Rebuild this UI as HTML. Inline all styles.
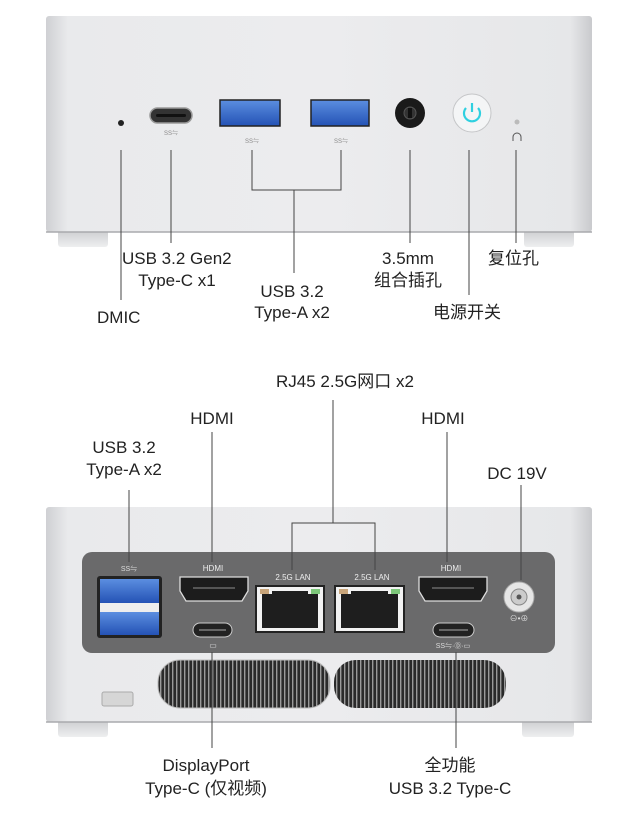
<!DOCTYPE html>
<html><head><meta charset="utf-8"><style>
html,body{margin:0;padding:0;background:#fff;}
svg{display:block}
text{font-family:"Liberation Sans","Noto Sans CJK SC",sans-serif;fill:#222;}
</style></head><body>
<svg width="640" height="815" viewBox="0 0 640 815" xmlns="http://www.w3.org/2000/svg">
<defs>
<linearGradient id="body" x1="0" x2="1" y1="0" y2="0">
<stop offset="0" stop-color="#cfd0d3"/><stop offset="0.04" stop-color="#e9eaec"/><stop offset="0.5" stop-color="#ececee"/><stop offset="0.96" stop-color="#e6e7e9"/><stop offset="1" stop-color="#c9cacd"/>
</linearGradient>
<linearGradient id="foot" x1="0" x2="0" y1="0" y2="1"><stop offset="0" stop-color="#c8c9cc"/><stop offset="1" stop-color="#eeeff0"/></linearGradient>
<linearGradient id="blue" x1="0" x2="0" y1="0" y2="1"><stop offset="0" stop-color="#5b8ee0"/><stop offset="1" stop-color="#2452b5"/></linearGradient>
<pattern id="vent" width="4" height="10" patternUnits="userSpaceOnUse"><rect width="4" height="10" fill="#2a2a2a"/><rect x="0" width="1.4" height="10" fill="#9a9a9a"/></pattern>
</defs>

<!-- TOP DEVICE -->
<rect x="58" y="228" width="50" height="19" rx="3" fill="url(#foot)"/>
<rect x="524" y="228" width="50" height="19" rx="3" fill="url(#foot)"/>
<rect x="46" y="16" width="546" height="216" rx="3" fill="url(#body)"/>
<line x1="46" y1="232" x2="592" y2="232" stroke="#a9aaad" stroke-width="1.5"/>
<circle cx="121" cy="123" r="3" fill="#222"/>
<rect x="150" y="108" width="42" height="15" rx="7.5" fill="#333" stroke="#999" stroke-width="1.5"/>
<rect x="156" y="114" width="30" height="3" rx="1.5" fill="#111"/>
<text x="171" y="135" font-size="6" text-anchor="middle" style="fill:#888">SS⇋</text>
<rect x="220" y="100" width="60" height="26" fill="url(#blue)" stroke="#222" stroke-width="1.5"/>
<rect x="311" y="100" width="58" height="26" fill="url(#blue)" stroke="#222" stroke-width="1.5"/>
<text x="252" y="143" font-size="6" text-anchor="middle" style="fill:#888">SS⇋</text>
<text x="341" y="143" font-size="6" text-anchor="middle" style="fill:#888">SS⇋</text>
<circle cx="410" cy="113" r="15" fill="#1a1a1a"/>
<circle cx="410" cy="113" r="6" fill="#333" stroke="#555"/>
<rect x="408" y="108" width="4" height="10" fill="#111"/>
<circle cx="472" cy="113" r="19" fill="#f4f5f6" stroke="#c5c6c8"/>
<path d="M466 108 a8 8 0 1 0 12 0" fill="none" stroke="#2fd0e0" stroke-width="2.2"/>
<line x1="472" y1="103" x2="472" y2="112" stroke="#2fd0e0" stroke-width="2.2"/>
<circle cx="517" cy="122" r="2.5" fill="#bbb"/>
<path d="M513 141 v-4 a4 4 0 0 1 8 0 v4" fill="none" stroke="#555" stroke-width="1"/>

<g stroke="#444" stroke-width="1" fill="none">
<line x1="121" y1="150" x2="121" y2="300"/>
<line x1="171" y1="150" x2="171" y2="243"/>
<polyline points="252,150 252,190 341,190 341,150"/>
<line x1="294" y1="190" x2="294" y2="273"/>
<line x1="410" y1="150" x2="410" y2="243"/>
<line x1="469" y1="150" x2="469" y2="295"/>
<line x1="516" y1="150" x2="516" y2="243"/>
</g>
<g font-size="17">
<text x="122" y="264">USB 3.2 Gen2</text>
<text x="177" y="286" text-anchor="middle">Type-C x1</text>
<text x="97" y="323">DMIC</text>
<text x="292" y="297" text-anchor="middle">USB 3.2</text>
<text x="292" y="318" text-anchor="middle">Type-A x2</text>
<text x="408" y="264" text-anchor="middle">3.5mm</text>
<text x="408" y="286" text-anchor="middle">组合插孔</text>
<text x="488" y="264">复位孔</text>
<text x="433" y="318">电源开关</text>
<text x="345" y="387" text-anchor="middle">RJ45 2.5G网口 x2</text>
<text x="212" y="424" text-anchor="middle">HDMI</text>
<text x="443" y="424" text-anchor="middle">HDMI</text>
<text x="124" y="453" text-anchor="middle">USB 3.2</text>
<text x="124" y="475" text-anchor="middle">Type-A x2</text>
<text x="517" y="479" text-anchor="middle">DC 19V</text>
<text x="206" y="771" text-anchor="middle">DisplayPort</text>
<text x="206" y="794" text-anchor="middle">Type-C (仅视频)</text>
<text x="450" y="771" text-anchor="middle">全功能</text>
<text x="450" y="794" text-anchor="middle">USB 3.2 Type-C</text>
</g>

<!-- BOTTOM DEVICE -->
<rect x="58" y="718" width="50" height="19" rx="3" fill="url(#foot)"/>
<rect x="522" y="718" width="52" height="19" rx="3" fill="url(#foot)"/>
<rect x="46" y="507" width="546" height="215" rx="3" fill="url(#body)"/>
<line x1="46" y1="722" x2="592" y2="722" stroke="#a9aaad" stroke-width="1.5"/>
<rect x="82" y="552" width="473" height="101" rx="10" fill="#6a6a6b"/>
<rect x="97" y="576" width="65" height="62" rx="3" fill="#222"/>
<rect x="100" y="579" width="59" height="24" fill="url(#blue)"/>
<rect x="100" y="603" width="59" height="9" fill="#eee"/>
<rect x="100" y="612" width="59" height="23" fill="url(#blue)"/>
<text x="129" y="571" font-size="7" text-anchor="middle" style="fill:#ddd">SS⇋</text>
<path d="M180 577 h68 v14 l-6 10 h-56 l-6 -10 z" fill="#1c1c1c" stroke="#ddd" stroke-width="1.3"/>
<rect x="193" y="587" width="42" height="2" fill="#555"/>
<text x="213" y="571" font-size="8" text-anchor="middle" style="fill:#eee">HDMI</text>
<path d="M419 577 h68 v14 l-6 10 h-56 l-6 -10 z" fill="#1c1c1c" stroke="#ddd" stroke-width="1.3"/>
<rect x="432" y="587" width="42" height="2" fill="#555"/>
<text x="451" y="571" font-size="8" text-anchor="middle" style="fill:#eee">HDMI</text>
<rect x="193" y="623" width="39" height="14" rx="7" fill="#222" stroke="#ccc"/>
<rect x="199" y="629" width="27" height="2" fill="#666"/>
<rect x="433" y="623" width="41" height="14" rx="7" fill="#222" stroke="#ccc"/>
<rect x="439" y="629" width="29" height="2" fill="#666"/>
<text x="213" y="648" font-size="8" text-anchor="middle" style="fill:#ddd">▭</text>
<text x="453" y="648" font-size="7" text-anchor="middle" style="fill:#ddd">SS⇋·Ⓓ·▭</text>
<text x="293" y="580" font-size="8" text-anchor="middle" style="fill:#eee">2.5G LAN</text>
<text x="372" y="580" font-size="8" text-anchor="middle" style="fill:#eee">2.5G LAN</text>
<g>
<rect x="255" y="585" width="70" height="48" fill="#222"/>
<rect x="257" y="587" width="66" height="44" fill="#f2f2f2"/>
<path d="M262 594 h10 v-3 h36 v3 h10 v34 h-56 z" fill="#1e1e1e"/>
<rect x="260" y="589" width="9" height="5" fill="#c9a57a"/>
<rect x="311" y="589" width="9" height="5" fill="#7dc77a"/>
<rect x="334" y="585" width="71" height="48" fill="#222"/>
<rect x="336" y="587" width="67" height="44" fill="#f2f2f2"/>
<path d="M341 594 h10 v-3 h37 v3 h10 v34 h-57 z" fill="#1e1e1e"/>
<rect x="339" y="589" width="9" height="5" fill="#c9a57a"/>
<rect x="391" y="589" width="9" height="5" fill="#7dc77a"/>
</g>
<circle cx="519" cy="597" r="15" fill="#e6e6e6" stroke="#aaa"/>
<circle cx="519" cy="597" r="8" fill="#ccc" stroke="#888"/>
<circle cx="519" cy="597" r="2.5" fill="#555"/>
<text x="519" y="621" font-size="8" text-anchor="middle" style="fill:#ddd">⊖•⊕</text>
<rect x="158" y="660" width="172" height="48" rx="22" fill="url(#vent)"/>
<rect x="158" y="660" width="172" height="48" rx="22" fill="none" stroke="#bbb"/>
<rect x="334" y="660" width="172" height="48" rx="22" fill="url(#vent)"/>
<rect x="102" y="692" width="31" height="14" rx="2" fill="#d6d6d6" stroke="#aaa"/>

<g stroke="#444" stroke-width="1" fill="none">
<line x1="129" y1="490" x2="129" y2="562"/>
<line x1="212" y1="432" x2="212" y2="562"/>
<line x1="333" y1="400" x2="333" y2="523"/>
<polyline points="292,570 292,523 375,523 375,570"/>
<line x1="447" y1="432" x2="447" y2="562"/>
<line x1="521" y1="485" x2="521" y2="580"/>
<line x1="212" y1="652" x2="212" y2="748"/>
<line x1="456" y1="652" x2="456" y2="748"/>
</g>
</svg>
</body></html>
